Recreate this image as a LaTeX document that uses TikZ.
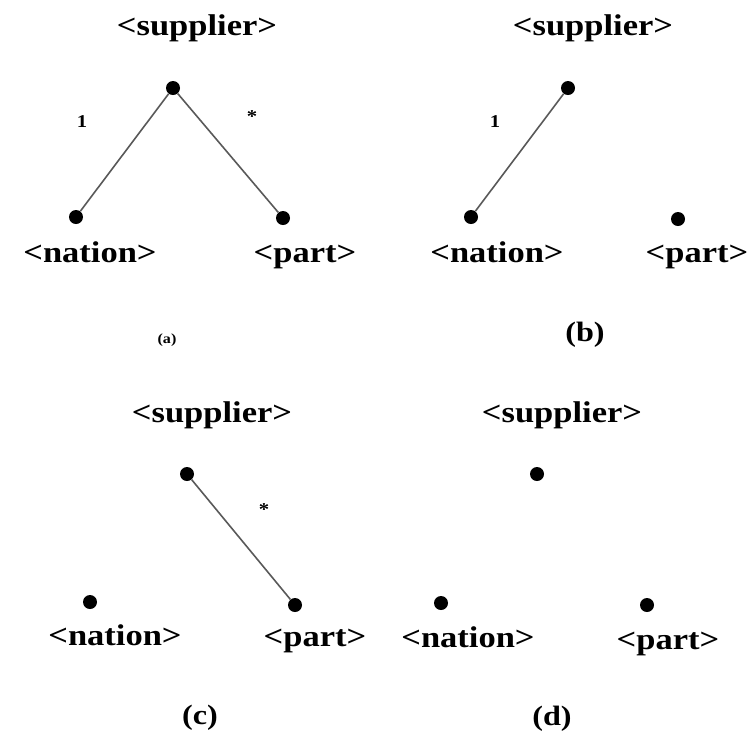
\documentclass[tikz,border=0pt]{standalone}
\usepackage{fontspec}
\setmainfont{Liberation Serif}[FakeStretch=1.15]
\begin{document}
\begin{tikzpicture}[x=1pt,y=-1pt,
  dot/.style={circle,fill=black,inner sep=0pt,minimum size=14pt},
  lbl/.style={font=\fontsize{30}{34}\selectfont\bfseries,inner sep=0pt,anchor=base},
  mult/.style={font=\fontsize{18}{20}\selectfont\bfseries,inner sep=0pt},
  sublabel/.style={font=\fontsize{28}{32}\selectfont\bfseries,inner sep=0pt},
  link/.style={draw=black!65,line width=1.6pt}]
\useasboundingbox (0,0) rectangle (753,740);

% panel (a): both links
\node[lbl] (sa) at (197,35) {<supplier>};
\node[dot] (ta) at (173,88) {};
\node[dot] (na) at (76,217) {};
\node[dot] (pa) at (283,218) {};
\node[lbl] (nla) at (90,262) {<nation>};
\node[lbl] (pla) at (305,262) {<part>};
\draw[link] (ta) -- (na);
\draw[link] (ta) -- (pa);
\node[mult] (oa) at (82,122) {1};
\node[mult] (ma) at (252,117) {*};
\node[font=\fontsize{14}{16}\selectfont\bfseries,inner sep=0pt] (ca) at (167,340) {(a)};

% panel (b): supplier to nation only
\node[lbl] (sb) at (593,35) {<supplier>};
\node[dot] (tb) at (568,88) {};
\node[dot] (nb) at (471,217) {};
\node[dot] (pb) at (678,219) {};
\node[lbl] (nlb) at (497,262) {<nation>};
\node[lbl] (plb) at (697,262) {<part>};
\draw[link] (tb) -- (nb);
\node[mult] (ob) at (495,122) {1};
\node[sublabel] (cb) at (585,335) {(b)};

% panel (c): supplier to part only
\node[lbl] (sc) at (212,422) {<supplier>};
\node[dot] (tc) at (187,474) {};
\node[dot] (nc) at (90,602) {};
\node[dot] (pc) at (295,605) {};
\node[lbl] (nlc) at (115,645) {<nation>};
\node[lbl] (plc) at (315,646) {<part>};
\draw[link] (tc) -- (pc);
\node[mult] (mc) at (264,510) {*};
\node[sublabel] (cc) at (200,718) {(c)};

% panel (d): no links
\node[lbl] (sd) at (562,422) {<supplier>};
\node[dot] (td) at (537,474) {};
\node[dot] (nd) at (441,603) {};
\node[dot] (pd) at (647,605) {};
\node[lbl] (nld) at (468,647) {<nation>};
\node[lbl] (pld) at (668,649) {<part>};
\node[sublabel] (cd) at (552,719) {(d)};
\end{tikzpicture}
\end{document}
